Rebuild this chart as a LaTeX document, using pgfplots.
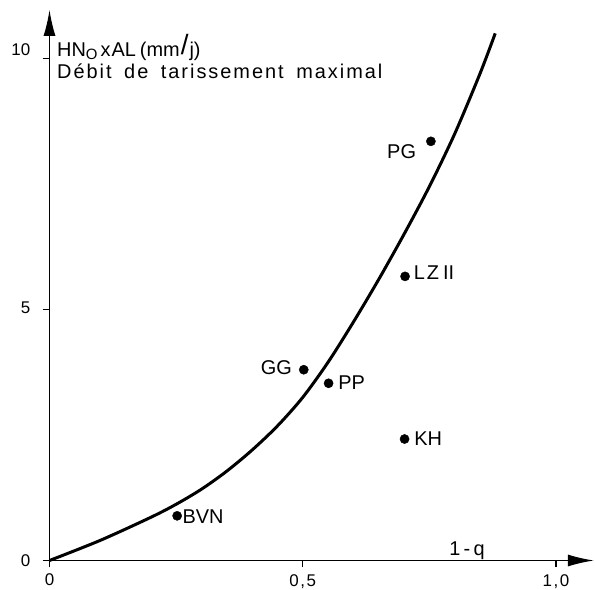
\documentclass[border=0pt]{standalone}
\usepackage{fontspec}
\setmainfont{Liberation Sans}
\newfontfamily\spaced[LetterSpace=10]{Liberation Sans}
\usepackage{pgfplots}
\pgfplotsset{compat=1.18}
\usetikzlibrary{arrows.meta}

% fitted recession curve
\pgfplotstableread{
x     y
0     0
0.10  0.40
0.20  0.86
0.25  1.12
0.30  1.42
0.35  1.78
0.40  2.20
0.45  2.68
0.50  3.25
0.55  3.95
0.60  4.75
0.65  5.60
0.70  6.50
0.75  7.45
0.80  8.50
0.85  9.70
0.88  10.50
}\curvedata

% basins
\pgfplotstableread{
x     y
0.252 0.89
0.502 3.80
0.551 3.53
0.701 2.42
0.702 5.66
0.753 8.35
}\basins

\newcommand{\lbl}{\fontsize{20}{22}\selectfont}
\newcommand{\tk}{\fontsize{17}{19}\selectfont}

\begin{document}
\begin{tikzpicture}
\begin{axis}[
  x=506.5bp, y=50.2bp,
  xmin=0, xmax=1.075, ymin=0, ymax=10.97,
  axis lines=left,
  axis line style={line width=1.6bp, -{Latex[length=26bp,width=12bp]}},
  xtick={0,0.5,1}, xticklabels={},
  ytick={0,5,10}, yticklabels={},
  tick align=outside, major tick length=7bp,
  tick style={line width=1.4bp, black},
  clip=false,
]
\addplot[black, line width=3bp, smooth] table[x=x, y=y] {\curvedata};
\addplot[only marks, mark=*, mark size=4.6bp, black] table[x=x, y=y] {\basins};

% tick labels
\node[anchor=base, inner sep=0pt, font=\tk] at (axis cs:0,0)   [yshift=-25bp] {0};
\node[anchor=base, inner sep=0pt, font=\tk] at (axis cs:0.5,0) [yshift=-25.5bp] {0\hspace{1.5bp},\hspace{1.5bp}5};
\node[anchor=base, inner sep=0pt, font=\tk] at (axis cs:1,0)   [yshift=-25.5bp] {1\hspace{1.5bp},\hspace{1.5bp}0};
\node[anchor=base east, inner sep=0pt, font=\tk] at (axis cs:0,0)  [xshift=-19bp, yshift=-6bp] {0};
\node[anchor=base east, inner sep=0pt, font=\tk] at (axis cs:0,5)  [xshift=-19bp, yshift=-4bp] {5};
\node[anchor=base east, inner sep=0pt, font=\tk] at (axis cs:0,10) [xshift=-19bp, yshift=2.5bp] {10};

% basin names
\node[anchor=base west, inner sep=0pt, font=\lbl] at (axis cs:0.252,0.89) [xshift=5.2bp, yshift=-7.3bp] {BVN};
\node[anchor=base east, inner sep=0pt, font=\lbl] at (axis cs:0.502,3.80) [xshift=-11.6bp, yshift=-4.3bp] {GG};
\node[anchor=base west, inner sep=0pt, font=\lbl] at (axis cs:0.551,3.53) [xshift=9.5bp, yshift=-6.7bp] {PP};
\node[anchor=base west, inner sep=0pt, font=\lbl] at (axis cs:0.701,2.42) [xshift=9.5bp, yshift=-6.7bp] {KH};
\node[anchor=base west, inner sep=0pt, font=\lbl] at (axis cs:0.702,5.66) [xshift=8.5bp, yshift=-3.3bp] {L\hspace{2bp}Z\hspace{4bp}II};
\node[anchor=base east, inner sep=0pt, font=\lbl] at (axis cs:0.753,8.35) [xshift=-14.7bp, yshift=-17.6bp] {PG};

\node[anchor=base west, inner sep=0pt, font=\lbl] at (axis cs:0.789,0) [yshift=5.5bp] {1\,-\,q};

% ordinate title
\node[anchor=base west, inner sep=0pt, font=\lbl] at (axis cs:0.0148,10.03)
  {HN\raisebox{-3bp}{\fontsize{15}{15}\selectfont O}\hspace{3bp}x\hspace{1bp}AL\hspace{4bp}(mm\hspace{1bp}\raisebox{2bp}{\fontsize{28}{28}\selectfont /}\hspace{1bp}j)};
\node[anchor=base west, inner sep=0pt, font=\lbl] at (axis cs:0.0148,9.61)
  {\spaced Débit\hspace{5bp} de\hspace{5bp} tarissement\hspace{5bp} maximal};

\coordinate (O) at (axis cs:0,0);
\end{axis}
\pgfresetboundingbox
\path[use as bounding box] ([shift={(-49.5bp,-29.5bp)}]O) rectangle ([shift={(545.5bp,560.5bp)}]O);
\end{tikzpicture}
\end{document}
